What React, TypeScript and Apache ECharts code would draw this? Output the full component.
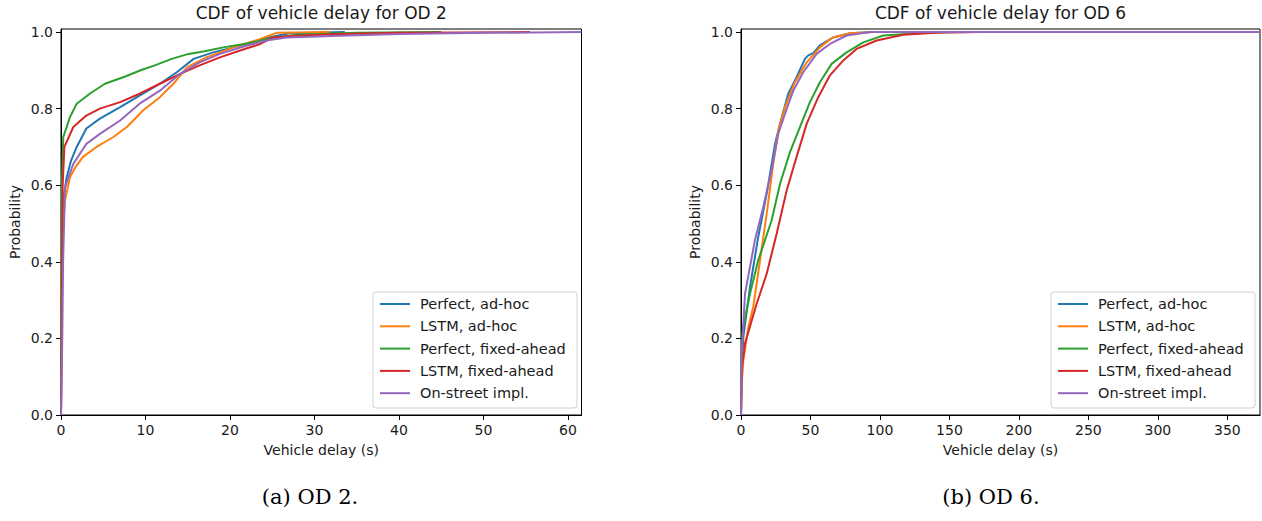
import React, { useEffect, useRef } from "react";
import * as echarts from "echarts";

const seriesNames = [
  "Perfect, ad-hoc",
  "LSTM, ad-hoc",
  "Perfect, fixed-ahead",
  "LSTM, fixed-ahead",
  "On-street impl.",
];
const seriesColors = ["#1f77b4", "#ff7f0e", "#2ca02c", "#d62728", "#9467bd"];

const chartTitles = ["CDF of vehicle delay for OD 2", "CDF of vehicle delay for OD 6"];
const captions = ["(a) OD 2.", "(b) OD 6."];
const xAxisName = "Vehicle delay (s)";
const yAxisName = "Probability";

const od2XTicks = [0, 10, 20, 30, 40, 50, 60];
const od6XTicks = [0, 50, 100, 150, 200, 250, 300, 350];
const probTicks = [0, 0.2, 0.4, 0.6, 0.8, 1.0];
const od2XMax = 61.6;
const od6XMax = 373.5;
const probMax = 1.008;

// OD 2 — [delay (s), cumulative probability]
const od2PerfectAdhoc = [
  [0, 0], [0.1, 0.45], [0.27, 0.56], [0.67, 0.621], [1.2, 0.665], [1.86, 0.7], [3.0, 0.748],
  [4.6, 0.774], [7.0, 0.804], [9.3, 0.834], [11.7, 0.865], [13.7, 0.895], [15.7, 0.93],
  [18.0, 0.947], [20.4, 0.96], [22.7, 0.973], [25, 0.988], [27, 0.997], [33.6, 1.0],
];
const od2LstmAdhoc = [
  [0, 0], [0.1, 0.45], [0.47, 0.56], [1.06, 0.621], [1.8, 0.65], [2.6, 0.674], [4.2, 0.7],
  [6.2, 0.726], [7.8, 0.752], [9.7, 0.795], [11.7, 0.83], [13.3, 0.865], [14.9, 0.908],
  [17.2, 0.934], [20.4, 0.96], [23.6, 0.982], [25.5, 0.998], [31.8, 1.0],
];
const od2PerfectFixed = [
  [0, 0], [0.1, 0.6], [0.27, 0.726], [0.67, 0.752], [1.06, 0.778], [1.86, 0.813], [3.4, 0.839],
  [5.2, 0.865], [7.6, 0.884], [9.5, 0.901], [11.1, 0.913], [13.1, 0.93], [15.1, 0.943],
  [17.0, 0.95], [19.2, 0.96], [22, 0.97], [25, 0.985], [28, 0.993], [35, 0.998], [45, 1.0],
];
const od2LstmFixed = [
  [0, 0], [0.2, 0.6], [0.4, 0.7], [1.46, 0.752], [3.0, 0.782], [4.6, 0.8], [7.0, 0.817],
  [9.3, 0.839], [11.7, 0.865], [14.1, 0.891], [16.4, 0.913], [18.8, 0.934], [21.2, 0.952],
  [23.6, 0.969], [25.1, 0.986], [27.1, 0.99], [32, 0.994], [40, 0.998], [55.5, 1.0],
];
const od2OnStreet = [
  [0, 0], [0.15, 0.2], [0.25, 0.4], [0.47, 0.595], [1.46, 0.656], [3.0, 0.708], [4.6, 0.734],
  [7.0, 0.769], [9.3, 0.813], [11.7, 0.847], [14.1, 0.891], [16.4, 0.921], [18.8, 0.943],
  [22.0, 0.965], [24.3, 0.978], [26.7, 0.986], [32, 0.99], [40, 0.995], [50, 0.998], [61.6, 1.0],
];

// OD 6 — [delay (s), cumulative probability]
const od6PerfectAdhoc = [
  [0, 0], [0.5, 0.12], [1.7, 0.204], [6.5, 0.335], [12.4, 0.465], [18.5, 0.578], [24.5, 0.708],
  [28.1, 0.761], [34, 0.839], [40, 0.882], [46, 0.93], [48.4, 0.939], [52, 0.945], [56.8, 0.965],
  [66.4, 0.986], [78.4, 0.997], [95, 1.0], [140, 1.0],
];
const od6LstmAdhoc = [
  [0, 0], [0.5, 0.08], [1.7, 0.143], [5.3, 0.23], [8.8, 0.282], [13.7, 0.404], [18.5, 0.526],
  [23.2, 0.656], [26.8, 0.743], [31.7, 0.804], [38.8, 0.869], [47.3, 0.921], [56.8, 0.96],
  [66, 0.986], [78.4, 0.997], [95, 1.0], [140, 1.0],
];
const od6PerfectFixed = [
  [0, 0], [0.5, 0.15], [1.2, 0.222], [6.5, 0.317], [12.4, 0.404], [22, 0.508], [28.1, 0.604],
  [35.3, 0.687], [42.4, 0.752], [49.6, 0.817], [56.8, 0.869], [65.2, 0.917], [76, 0.947],
  [88, 0.973], [102.4, 0.991], [127, 0.997], [150, 1.0],
];
const od6LstmFixed = [
  [0, 0], [0.5, 0.117], [2.9, 0.187], [11.3, 0.291], [18.5, 0.369], [25.7, 0.474], [32.9, 0.587],
  [40, 0.674], [47.3, 0.761], [55.6, 0.83], [64, 0.887], [73.6, 0.926], [83.2, 0.956],
  [97.6, 0.978], [116.8, 0.993], [140, 0.998], [173, 1.0],
];
const od6OnStreet = [
  [0, 0], [0.5, 0.16], [2.9, 0.317], [10, 0.456], [16, 0.543], [22, 0.639], [26.9, 0.735],
  [31.7, 0.787], [37.6, 0.847], [44.8, 0.895], [54.4, 0.943], [64, 0.969], [76, 0.991],
  [92.8, 1.0], [373.5, 1.0],
];

const od2Data = [od2PerfectAdhoc, od2LstmAdhoc, od2PerfectFixed, od2LstmFixed, od2OnStreet];
const od6Data = [od6PerfectAdhoc, od6LstmAdhoc, od6PerfectFixed, od6LstmFixed, od6OnStreet];

const FONT = "DejaVu Sans";
const TEXT = "#1a1a1a";

const grids = [
  { left: 61, top: 29, width: 520.5, height: 386 },
  { left: 741, top: 29, width: 519, height: 386 },
];

function makeXAxis(gridIndex: number, max: number, ticks: number[]) {
  return {
    type: "value",
    gridIndex,
    min: 0,
    max,
    name: xAxisName,
    nameLocation: "middle",
    nameGap: 28,
    nameTextStyle: { fontFamily: FONT, fontSize: 14, color: TEXT },
    axisLine: { show: true, onZero: false, lineStyle: { color: "#000", width: 1 } },
    axisTick: { show: true, length: 5, inside: false, customValues: ticks, lineStyle: { color: "#000", width: 1 } },
    axisLabel: {
      show: true,
      margin: 8,
      customValues: ticks,
      fontFamily: FONT,
      fontSize: 14,
      color: TEXT,
      formatter: (v: number) => String(v),
    },
    splitLine: { show: false },
  };
}

function makeYAxis(gridIndex: number) {
  return {
    type: "value",
    gridIndex,
    min: 0,
    max: probMax,
    name: yAxisName,
    nameLocation: "middle",
    nameGap: 39,
    nameRotate: 90,
    nameTextStyle: { fontFamily: FONT, fontSize: 14, color: TEXT },
    axisLine: { show: true, onZero: false, lineStyle: { color: "#000", width: 1 } },
    axisTick: { show: true, length: 5, inside: false, customValues: probTicks, lineStyle: { color: "#000", width: 1 } },
    axisLabel: {
      show: true,
      margin: 8,
      customValues: probTicks,
      fontFamily: FONT,
      fontSize: 14,
      color: TEXT,
      formatter: (v: number) => v.toFixed(1),
    },
    splitLine: { show: false },
  };
}

function makeLegend(left: number, top: number) {
  return {
    orient: "vertical",
    left,
    top,
    padding: 0,
    itemGap: 6.3,
    itemWidth: 30,
    itemHeight: 2,
    icon: "rect",
    selectedMode: false,
    z: 20,
    data: seriesNames,
    textStyle: { fontFamily: FONT, fontSize: 14.5, color: TEXT, lineHeight: 16, padding: [0, 0, 0, 5] },
  };
}

export default function App() {
  const ref = useRef<HTMLDivElement>(null);

  useEffect(() => {
    if (!ref.current) return;
    const chart = echarts.init(ref.current, undefined, { renderer: "svg" });

    const series: any[] = [];
    [od2Data, od6Data].forEach((group, gi) => {
      group.forEach((data, i) => {
        series.push({
          type: "line",
          name: seriesNames[i],
          xAxisIndex: gi,
          yAxisIndex: gi,
          data,
          showSymbol: false,
          symbol: "none",
          color: seriesColors[i],
          lineStyle: { width: 2, color: seriesColors[i] },
          clip: true,
          z: 2,
        });
      });
    });

    const legendBoxes = [
      { x: 373, y: 292, width: 204, height: 116 },
      { x: 1051, y: 292, width: 204, height: 116 },
    ];

    const option: any = {
      animation: false,
      color: seriesColors,
      grid: grids.map((g) => ({ ...g, show: true, borderColor: "#000", borderWidth: 1, backgroundColor: "transparent" })),
      xAxis: [makeXAxis(0, od2XMax, od2XTicks), makeXAxis(1, od6XMax, od6XTicks)],
      yAxis: [makeYAxis(0), makeYAxis(1)],
      legend: [makeLegend(380, 296), makeLegend(1058, 296)],
      series,
      graphic: [
        ...legendBoxes.map((b) => ({
          type: "rect",
          z: 5,
          shape: { x: b.x, y: b.y, width: b.width, height: b.height, r: 3 },
          style: { fill: "rgba(255,255,255,0.85)", stroke: "#d0d0d0", lineWidth: 1 },
        })),
        ...chartTitles.map((t, i) => ({
          type: "text",
          x: grids[i].left + grids[i].width / 2,
          y: 13,
          z: 10,
          style: {
            text: t,
            font: `17px "${FONT}"`,
            fill: TEXT,
            textAlign: "center",
            textVerticalAlign: "middle",
            align: "center",
            verticalAlign: "middle",
          },
        })),
        ...captions.map((t, i) => ({
          type: "text",
          x: i === 0 ? 310 : 991,
          y: 497,
          z: 10,
          style: {
            text: t,
            font: `21px "DejaVu Serif"`,
            fill: "#000",
            textAlign: "center",
            textVerticalAlign: "middle",
            align: "center",
            verticalAlign: "middle",
          },
        })),
      ],
    };

    chart.setOption(option);
    return () => chart.dispose();
  }, []);

  return (
    <div
      ref={ref}
      style={{ position: "fixed", left: 0, top: 0, width: 1262, height: 521, background: "#fff" }}
    />
  );
}
